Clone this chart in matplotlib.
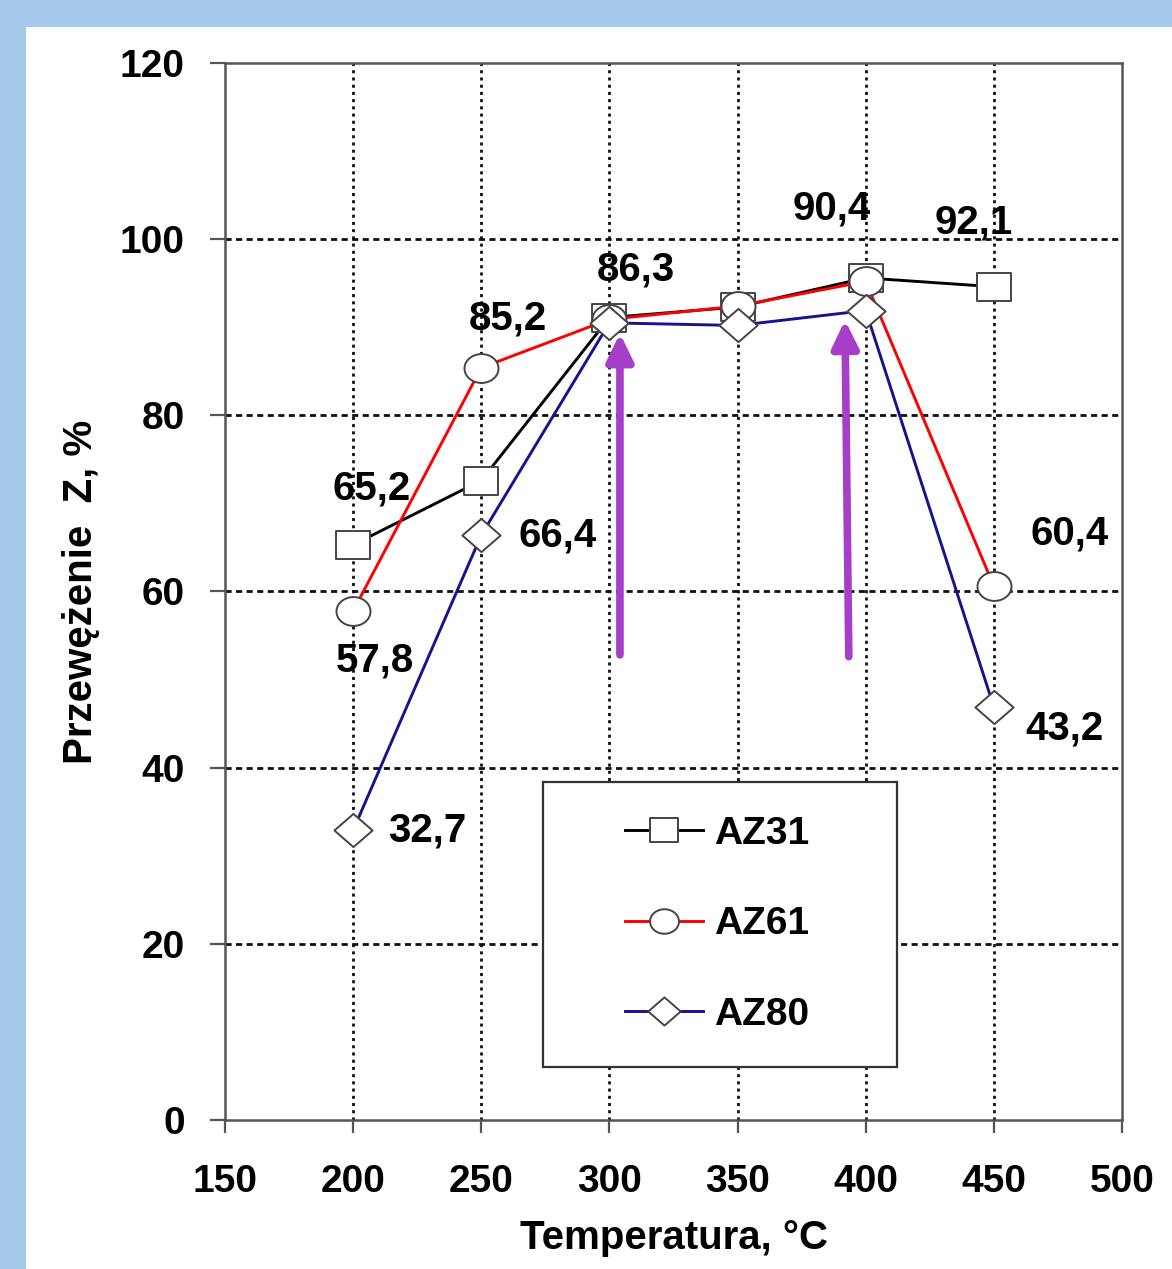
import matplotlib
matplotlib.use("Agg")
import matplotlib.pyplot as plt
from matplotlib.path import Path
from matplotlib.patches import Rectangle
import numpy as np

plt.rcParams['font.family'] = ['Liberation Sans', 'DejaVu Sans']
plt.rcParams['font.weight'] = 'bold'

# dane
temp = [200, 250, 300, 350, 400, 450]
az31 = [65.3, 72.6, 91.1, 92.3, 95.6, 94.6]
az61 = [57.8, 85.4, 90.9, 92.4, 95.2, 60.6]
az80 = [32.9, 66.4, 90.5, 90.2, 91.9, 46.9]
series_names = ['AZ31', 'AZ61', 'AZ80']

labels = ['65,2', '57,8', '32,7', '85,2', '66,4', '86,3', '90,4', '92,1', '60,4', '43,2']
# polozenie opisow (x, y w jednostkach osi)
label_pos = [(207.3, 71.7), (208.5, 52.2), (228.8, 32.9), (260.4, 91.0), (279.6, 66.4),
             (310.2, 96.5), (386.6, 103.5), (442.2, 101.9), (479.5, 66.6), (477.4, 44.5)]

# strzalki (x_dol, y_dol, x_gora, y_gora)
arrows = [(304.1, 52.8, 304.1, 89.3), (393.4, 52.6, 391.9, 90.8)]

# markery lekko rozciagniete w poziomie (jak na oryginale)
sq = Path([(-1.2, -1), (1.2, -1), (1.2, 1), (-1.2, 1), (-1.2, -1)],
          [Path.MOVETO, Path.LINETO, Path.LINETO, Path.LINETO, Path.CLOSEPOLY])
t = np.linspace(0, 2 * np.pi, 60)
ell = Path(np.column_stack([1.18 * np.cos(t), np.sin(t)]), closed=True)
dia = Path([(0, -1), (1.15, 0), (0, 1), (-1.15, 0), (0, -1)],
           [Path.MOVETO, Path.LINETO, Path.LINETO, Path.LINETO, Path.CLOSEPOLY])

fig = plt.figure(figsize=(11.72, 12.69), dpi=100)
fig.patch.set_facecolor('#a5c9ea')
fig.patches.append(Rectangle((26 / 1172, 0), 1, 1 - 27 / 1269, transform=fig.transFigure,
                             facecolor='white', edgecolor='none', zorder=-5))

ax = fig.add_axes([0.19198, 0.11742, 0.76536, 0.83294])
ax.set_zorder(2)
ax.set_facecolor('white')

styles = [('black', sq, 24.5), ('red', ell, 24.5), ('#14148c', dia, 27.5)]
for vals, name, (c, m, ms) in zip([az31, az61, az80], series_names, styles):
    ax.plot(temp, vals, color=c, lw=2.1, marker=m, ms=ms, mfc='white', mec='#444444',
            mew=1.4, label=name, zorder=3)

for txt, (x, y) in zip(labels, label_pos):
    ax.text(x, y, txt, fontsize=29, fontweight='bold', ha='center', va='center', zorder=5)

for x0, y0, x1, y1 in arrows:
    ax.annotate('', xy=(x1, y1), xytext=(x0, y0),
                arrowprops=dict(arrowstyle='-|>,head_length=0.45,head_width=0.22',
                                color='#a53fc8', lw=5.5, mutation_scale=36,
                                shrinkA=0, shrinkB=0), zorder=4)

ax.set_xlim(150, 500)
ax.set_ylim(0, 120)
ax.set_xticks(np.arange(150, 501, 50))
ax.set_yticks(np.arange(0, 121, 20))
ax.xaxis.grid(True, color='#111111', lw=2.0, ls=(0, (1.1, 1.5)), zorder=1)
ax.yaxis.grid(True, color='#111111', lw=2.0, ls=(0, (2.2, 1.6)), zorder=1)
ax.set_axisbelow(True)
# bez siatki na krawedziach (tam sa ramki osi)
for gl in ax.xaxis.get_gridlines()[::len(ax.get_xticks()) - 1]:
    gl.set_visible(False)
for gl in ax.yaxis.get_gridlines()[::len(ax.get_yticks()) - 1]:
    gl.set_visible(False)

for s in ax.spines.values():
    s.set_color('#555555')
    s.set_linewidth(1.8)
ax.tick_params(axis='y', direction='out', length=11, width=1.6, color='#555555',
               pad=18, labelsize=28)
ax.tick_params(axis='x', direction='out', length=9.5, width=1.6, color='#555555',
               pad=22, labelsize=28)
for lab in ax.get_xticklabels() + ax.get_yticklabels():
    lab.set_fontweight('bold')

ax.set_xlabel('Temperatura, °C', fontsize=29, fontweight='bold', labelpad=14)
ax.set_ylabel('Przewężenie  Z, %', fontsize=29, fontweight='bold', labelpad=14)

# ramka legendy
ax.add_patch(Rectangle((0.3545, 0.050), 0.3945, 0.270, transform=ax.transAxes,
                       facecolor='white', edgecolor='#333333', lw=1.6, zorder=6))
leg = ax.legend(loc='center left', bbox_to_anchor=(0.424, 0.185), frameon=False,
                fontsize=28, handlelength=2.0, handletextpad=0.3, labelspacing=1.4,
                markerscale=0.85, borderpad=0)
leg.set_zorder(7)
for tx in leg.get_texts():
    tx.set_fontweight('bold')

fig.savefig('out.png', dpi=100)
